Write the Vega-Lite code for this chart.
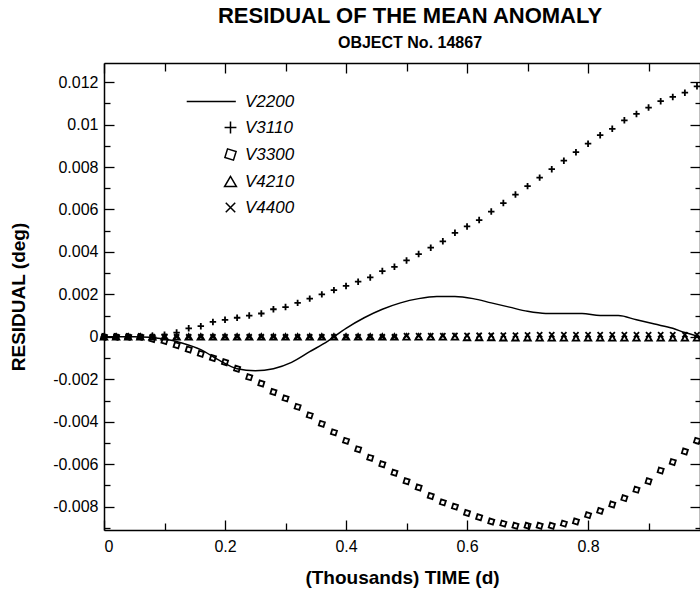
{
 "$schema": "https://vega.github.io/schema/vega-lite/v6.json",
 "width": 596, "height": 467,
 "autosize": {"type": "none"},
 "padding": {"left": 104, "top": 63, "right": 0, "bottom": 66},
 "background": "white",
 "title": {"text": "RESIDUAL OF THE MEAN ANOMALY", "subtitle": "OBJECT No. 14867", "anchor": "middle", "dx": 8, "offset": 10, "font": "Liberation Sans", "fontSize": 22, "fontWeight": "bold", "color": "black", "subtitleFont": "Liberation Sans", "subtitleFontSize": 16, "subtitleFontWeight": "bold", "subtitleColor": "black", "subtitlePadding": 7},
 "data": {"values": [
  {"s":"V2200","t":0,"v":0},{"s":"V2200","t":0.05,"v":0},{"s":"V2200","t":0.1,"v":-0.0001},{"s":"V2200","t":0.13,"v":-0.0003},{"s":"V2200","t":0.16,"v":-0.0006},{"s":"V2200","t":0.19,"v":-0.0011},{"s":"V2200","t":0.22,"v":-0.0015},{"s":"V2200","t":0.25,"v":-0.0016},{"s":"V2200","t":0.28,"v":-0.0015},{"s":"V2200","t":0.31,"v":-0.0012},{"s":"V2200","t":0.34,"v":-0.0007},{"s":"V2200","t":0.37,"v":-0.0002},{"s":"V2200","t":0.4,"v":0.0004},{"s":"V2200","t":0.43,"v":0.0009},{"s":"V2200","t":0.46,"v":0.0013},{"s":"V2200","t":0.49,"v":0.0016},{"s":"V2200","t":0.52,"v":0.0018},{"s":"V2200","t":0.55,"v":0.0019},{"s":"V2200","t":0.58,"v":0.0019},{"s":"V2200","t":0.61,"v":0.0018},{"s":"V2200","t":0.64,"v":0.0016},{"s":"V2200","t":0.67,"v":0.0014},{"s":"V2200","t":0.7,"v":0.0012},{"s":"V2200","t":0.73,"v":0.0011},{"s":"V2200","t":0.76,"v":0.0011},{"s":"V2200","t":0.79,"v":0.0011},{"s":"V2200","t":0.82,"v":0.001},{"s":"V2200","t":0.85,"v":0.001},{"s":"V2200","t":0.88,"v":0.0008},{"s":"V2200","t":0.91,"v":0.0006},{"s":"V2200","t":0.94,"v":0.0004},{"s":"V2200","t":0.96,"v":0.0002},{"s":"V2200","t":0.985,"v":0},
  {"s":"V3110","t":0,"v":0},{"s":"V3110","t":0.02,"v":0},{"s":"V3110","t":0.04,"v":0},{"s":"V3110","t":0.06,"v":0},{"s":"V3110","t":0.08,"v":0.00005},{"s":"V3110","t":0.1,"v":0.0001},{"s":"V3110","t":0.12,"v":0.0002},{"s":"V3110","t":0.14,"v":0.0004},{"s":"V3110","t":0.16,"v":0.0005},{"s":"V3110","t":0.18,"v":0.0007},{"s":"V3110","t":0.2,"v":0.0008},{"s":"V3110","t":0.22,"v":0.0009},{"s":"V3110","t":0.24,"v":0.001},{"s":"V3110","t":0.26,"v":0.0011},{"s":"V3110","t":0.28,"v":0.0013},{"s":"V3110","t":0.3,"v":0.0014},{"s":"V3110","t":0.32,"v":0.0016},{"s":"V3110","t":0.34,"v":0.0018},{"s":"V3110","t":0.36,"v":0.002},{"s":"V3110","t":0.38,"v":0.0022},{"s":"V3110","t":0.4,"v":0.0024},{"s":"V3110","t":0.42,"v":0.0026},{"s":"V3110","t":0.44,"v":0.0028},{"s":"V3110","t":0.46,"v":0.0031},{"s":"V3110","t":0.48,"v":0.0033},{"s":"V3110","t":0.5,"v":0.0036},{"s":"V3110","t":0.52,"v":0.0039},{"s":"V3110","t":0.54,"v":0.0042},{"s":"V3110","t":0.56,"v":0.0045},{"s":"V3110","t":0.58,"v":0.0049},{"s":"V3110","t":0.6,"v":0.0052},{"s":"V3110","t":0.62,"v":0.0055},{"s":"V3110","t":0.64,"v":0.0059},{"s":"V3110","t":0.66,"v":0.0063},{"s":"V3110","t":0.68,"v":0.0067},{"s":"V3110","t":0.7,"v":0.0071},{"s":"V3110","t":0.72,"v":0.0075},{"s":"V3110","t":0.74,"v":0.0079},{"s":"V3110","t":0.76,"v":0.0083},{"s":"V3110","t":0.78,"v":0.0087},{"s":"V3110","t":0.8,"v":0.0091},{"s":"V3110","t":0.82,"v":0.0095},{"s":"V3110","t":0.84,"v":0.0098},{"s":"V3110","t":0.86,"v":0.0102},{"s":"V3110","t":0.88,"v":0.0105},{"s":"V3110","t":0.9,"v":0.0108},{"s":"V3110","t":0.92,"v":0.0111},{"s":"V3110","t":0.94,"v":0.0113},{"s":"V3110","t":0.96,"v":0.0115},{"s":"V3110","t":0.98,"v":0.0118},
  {"s":"V3300","t":0,"v":0},{"s":"V3300","t":0.02,"v":0},{"s":"V3300","t":0.04,"v":0},{"s":"V3300","t":0.06,"v":0},{"s":"V3300","t":0.08,"v":-0.0001},{"s":"V3300","t":0.1,"v":-0.0002},{"s":"V3300","t":0.12,"v":-0.0004},{"s":"V3300","t":0.14,"v":-0.0006},{"s":"V3300","t":0.16,"v":-0.0008},{"s":"V3300","t":0.18,"v":-0.001},{"s":"V3300","t":0.2,"v":-0.0012},{"s":"V3300","t":0.22,"v":-0.0015},{"s":"V3300","t":0.24,"v":-0.0019},{"s":"V3300","t":0.26,"v":-0.0022},{"s":"V3300","t":0.28,"v":-0.0026},{"s":"V3300","t":0.3,"v":-0.0029},{"s":"V3300","t":0.32,"v":-0.0033},{"s":"V3300","t":0.34,"v":-0.0037},{"s":"V3300","t":0.36,"v":-0.0041},{"s":"V3300","t":0.38,"v":-0.0045},{"s":"V3300","t":0.4,"v":-0.0049},{"s":"V3300","t":0.42,"v":-0.0053},{"s":"V3300","t":0.44,"v":-0.0057},{"s":"V3300","t":0.46,"v":-0.006},{"s":"V3300","t":0.48,"v":-0.0064},{"s":"V3300","t":0.5,"v":-0.0068},{"s":"V3300","t":0.52,"v":-0.0071},{"s":"V3300","t":0.54,"v":-0.0075},{"s":"V3300","t":0.56,"v":-0.0078},{"s":"V3300","t":0.58,"v":-0.008},{"s":"V3300","t":0.6,"v":-0.0083},{"s":"V3300","t":0.62,"v":-0.0085},{"s":"V3300","t":0.64,"v":-0.0087},{"s":"V3300","t":0.66,"v":-0.0088},{"s":"V3300","t":0.68,"v":-0.0089},{"s":"V3300","t":0.7,"v":-0.0089},{"s":"V3300","t":0.72,"v":-0.0089},{"s":"V3300","t":0.74,"v":-0.0089},{"s":"V3300","t":0.76,"v":-0.0088},{"s":"V3300","t":0.78,"v":-0.0087},{"s":"V3300","t":0.8,"v":-0.0084},{"s":"V3300","t":0.82,"v":-0.0082},{"s":"V3300","t":0.84,"v":-0.0079},{"s":"V3300","t":0.86,"v":-0.0076},{"s":"V3300","t":0.88,"v":-0.0072},{"s":"V3300","t":0.9,"v":-0.0068},{"s":"V3300","t":0.92,"v":-0.0063},{"s":"V3300","t":0.94,"v":-0.0059},{"s":"V3300","t":0.96,"v":-0.0054},{"s":"V3300","t":0.98,"v":-0.0049},
  {"s":"V4210","t":0,"v":0},{"s":"V4210","t":0.02,"v":0},{"s":"V4210","t":0.04,"v":0},{"s":"V4210","t":0.06,"v":0},{"s":"V4210","t":0.08,"v":0},{"s":"V4210","t":0.1,"v":0},{"s":"V4210","t":0.12,"v":0},{"s":"V4210","t":0.14,"v":0},{"s":"V4210","t":0.16,"v":0},{"s":"V4210","t":0.18,"v":0},{"s":"V4210","t":0.2,"v":0},{"s":"V4210","t":0.22,"v":0},{"s":"V4210","t":0.24,"v":0},{"s":"V4210","t":0.26,"v":0},{"s":"V4210","t":0.28,"v":0},{"s":"V4210","t":0.3,"v":0},{"s":"V4210","t":0.32,"v":0},{"s":"V4210","t":0.34,"v":0},{"s":"V4210","t":0.36,"v":0},{"s":"V4210","t":0.38,"v":0},{"s":"V4210","t":0.4,"v":0},{"s":"V4210","t":0.42,"v":0},{"s":"V4210","t":0.44,"v":0},{"s":"V4210","t":0.46,"v":0},{"s":"V4210","t":0.48,"v":0},{"s":"V4210","t":0.5,"v":0},{"s":"V4210","t":0.52,"v":0},{"s":"V4210","t":0.54,"v":0},{"s":"V4210","t":0.56,"v":0},{"s":"V4210","t":0.58,"v":0},{"s":"V4210","t":0.6,"v":-0.00003},{"s":"V4210","t":0.62,"v":-0.00003},{"s":"V4210","t":0.64,"v":-0.00003},{"s":"V4210","t":0.66,"v":-0.00004},{"s":"V4210","t":0.68,"v":-0.00004},{"s":"V4210","t":0.7,"v":-0.00004},{"s":"V4210","t":0.72,"v":-0.00005},{"s":"V4210","t":0.74,"v":-0.00005},{"s":"V4210","t":0.76,"v":-0.00005},{"s":"V4210","t":0.78,"v":-0.00005},{"s":"V4210","t":0.8,"v":-0.00005},{"s":"V4210","t":0.82,"v":-0.00005},{"s":"V4210","t":0.84,"v":-0.00005},{"s":"V4210","t":0.86,"v":-0.00005},{"s":"V4210","t":0.88,"v":-0.00005},{"s":"V4210","t":0.9,"v":-0.00005},{"s":"V4210","t":0.92,"v":-0.00005},{"s":"V4210","t":0.94,"v":-0.00005},{"s":"V4210","t":0.96,"v":-0.00005},{"s":"V4210","t":0.98,"v":-0.00005},
  {"s":"V4400","t":0,"v":0},{"s":"V4400","t":0.02,"v":0},{"s":"V4400","t":0.04,"v":0},{"s":"V4400","t":0.06,"v":0},{"s":"V4400","t":0.08,"v":0},{"s":"V4400","t":0.1,"v":0},{"s":"V4400","t":0.12,"v":0},{"s":"V4400","t":0.14,"v":0},{"s":"V4400","t":0.16,"v":0},{"s":"V4400","t":0.18,"v":0},{"s":"V4400","t":0.2,"v":0},{"s":"V4400","t":0.22,"v":0},{"s":"V4400","t":0.24,"v":0},{"s":"V4400","t":0.26,"v":0},{"s":"V4400","t":0.28,"v":0},{"s":"V4400","t":0.3,"v":0},{"s":"V4400","t":0.32,"v":0},{"s":"V4400","t":0.34,"v":0},{"s":"V4400","t":0.36,"v":0},{"s":"V4400","t":0.38,"v":0},{"s":"V4400","t":0.4,"v":0},{"s":"V4400","t":0.42,"v":0},{"s":"V4400","t":0.44,"v":0},{"s":"V4400","t":0.46,"v":0},{"s":"V4400","t":0.48,"v":0},{"s":"V4400","t":0.5,"v":0.00005},{"s":"V4400","t":0.52,"v":0.00005},{"s":"V4400","t":0.54,"v":0.00005},{"s":"V4400","t":0.56,"v":0.00005},{"s":"V4400","t":0.58,"v":0.00006},{"s":"V4400","t":0.6,"v":0.00006},{"s":"V4400","t":0.62,"v":0.00007},{"s":"V4400","t":0.64,"v":0.00007},{"s":"V4400","t":0.66,"v":0.00008},{"s":"V4400","t":0.68,"v":0.00008},{"s":"V4400","t":0.7,"v":0.00009},{"s":"V4400","t":0.72,"v":0.0001},{"s":"V4400","t":0.74,"v":0.0001},{"s":"V4400","t":0.76,"v":0.0001},{"s":"V4400","t":0.78,"v":0.0001},{"s":"V4400","t":0.8,"v":0.0001},{"s":"V4400","t":0.82,"v":0.0001},{"s":"V4400","t":0.84,"v":0.0001},{"s":"V4400","t":0.86,"v":0.0001},{"s":"V4400","t":0.88,"v":0.0001},{"s":"V4400","t":0.9,"v":0.0001},{"s":"V4400","t":0.92,"v":0.0001},{"s":"V4400","t":0.94,"v":0.0001},{"s":"V4400","t":0.96,"v":0.0001},{"s":"V4400","t":0.98,"v":0.0001}
 ]},
 "layer": [
  {
   "transform": [{"filter": "datum.s == 'V2200'"}],
   "mark": {"type": "line", "color": "black", "strokeWidth": 1.5, "interpolate": "monotone"},
   "encoding": {
    "x": {"field": "t", "type": "quantitative", "scale": {"domain": [0, 0.985], "nice": false, "zero": false},
     "axis": {"orient": "bottom", "title": "(Thousands)  TIME  (d)", "titleFontSize": 19, "values": [0,0.1,0.2,0.3,0.4,0.5,0.6,0.7,0.8,0.9],
      "labelExpr": "round(datum.value*10)%2==0 ? (datum.value==0 ? '0' : format(datum.value,'.1f')) : ''",
      "tickSize": {"condition": {"test": "round(datum.value*10)%2==0", "value": -10}, "value": -7},
      "labelPadding": 18, "titlePadding": 14}},
    "y": {"field": "v", "type": "quantitative", "scale": {"domain": [-0.0091, 0.0129], "nice": false, "zero": false},
     "axis": {"orient": "left", "title": "RESIDUAL (deg)", "titleFontSize": 19, "values": [-0.009,-0.008,-0.007,-0.006,-0.005,-0.004,-0.003,-0.002,-0.001,0,0.001,0.002,0.003,0.004,0.005,0.006,0.007,0.008,0.009,0.01,0.011,0.012],
      "labelExpr": "round(datum.value*1000)%2==0 ? (datum.value==0 ? '0' : replace(format(datum.value,'~g'),'\u2212','-')) : ''",
      "tickSize": {"condition": {"test": "round(datum.value*1000)%2==0", "value": -10}, "value": -6},
      "labelPadding": 16, "titlePadding": 24}}
   }
  },
  {
   "transform": [{"filter": "datum.s != 'V2200'"}],
   "mark": {"type": "point", "filled": false, "color": "black", "strokeWidth": 1.8, "size": 42, "opacity": 1},
   "encoding": {
    "x": {"field": "t", "type": "quantitative",
     "axis": {"orient": "top", "title": null, "labels": false, "values": [0,0.1,0.2,0.3,0.4,0.5,0.6,0.7,0.8,0.9],
      "tickSize": {"condition": {"test": "round(datum.value*10)%2==0", "value": -10}, "value": -8}}},
    "y": {"field": "v", "type": "quantitative",
     "axis": {"orient": "right", "title": null, "labels": false, "values": [-0.009,-0.008,-0.007,-0.006,-0.005,-0.004,-0.003,-0.002,-0.001,0,0.001,0.002,0.003,0.004,0.005,0.006,0.007,0.008,0.009,0.01,0.011,0.012],
      "tickSize": {"condition": {"test": "round(datum.value*1000)%2==0", "value": -10}, "value": -5}}},
    "shape": {"field": "s", "type": "nominal",
     "scale": {"domain": ["V2200","V3110","V3300","V4210","V4400"], "range": ["M-7.4,0H0.9", "M-1,0H1M0,-1V1", "M-0.5,-0.95L0.95,-0.5L0.5,0.95L-0.95,0.5Z", "triangle-up", "M-0.8,-0.8L0.8,0.8M-0.8,0.8L0.8,-0.8"]},
     "legend": {"orient": "none", "legendX": 118, "legendY": 30, "title": null, "padding": 0, "symbolSize": 140, "symbolStrokeWidth": 1.5, "symbolStrokeColor": "black", "symbolFillColor": "transparent", "labelFont": "Liberation Sans", "labelFontStyle": "italic", "labelFontSize": 17, "labelColor": "black", "labelOffset": 6, "rowPadding": 8}}
   }
  }
 ],
 "config": {
  "view": {"stroke": null},
  "axis": {"domainColor": "black", "domainWidth": 1.5, "tickColor": "black", "tickWidth": 1.3, "labelColor": "black", "labelFont": "Liberation Sans", "labelFontSize": 16, "titleFont": "Liberation Sans", "titleFontSize": 17, "titleFontWeight": "bold", "titleColor": "black", "grid": false}
 }
}
